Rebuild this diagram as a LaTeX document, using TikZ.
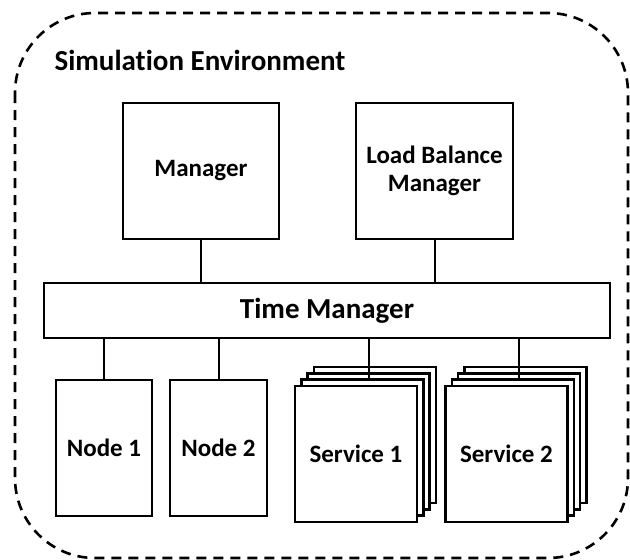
\documentclass[tikz,border=0pt]{standalone}
\usepackage{fontspec}
\setmainfont{Carlito}[Ligatures=NoCommon]
\begin{document}
\begin{tikzpicture}[x=1pt,y=-1pt,
  every node/.style={font=\bfseries\fontsize{25}{28}\selectfont, align=center},
  box/.style={draw, line width=2.5pt, fill=white, inner sep=0pt},
  layer/.style={box, minimum width=122pt, minimum height=136pt},
  link/.style={line width=2pt},
  envborder/.style={line width=2.6pt, dash pattern=on 10pt off 7pt, rounded corners=80pt}
]
\useasboundingbox (0,0) rectangle (630,560);

% surrounding environment
\draw[envborder] (15,13) rectangle (628,558);
\node[anchor=base west, font=\bfseries\fontsize{29}{31}\selectfont] (title) at (51,70) {Simulation Environment};

% upper managers
\node[box, minimum width=156pt, minimum height=136pt] (mgr) at (201,171) {Manager};
\node[box, minimum width=157pt, minimum height=136pt] (lbm) at (434.5,171) {Load Balance\\Manager};

% shared time bus
\node[box, minimum width=566pt, minimum height=55pt, font=\bfseries\fontsize{29}{30}\selectfont] (tm) at (327,310.5) {Time Manager};

% simulated nodes
\node[box, minimum width=96pt, minimum height=136pt] (n1) at (104,448) {Node 1};
\node[box, minimum width=97pt, minimum height=136pt] (n2) at (218.5,448) {Node 2};

% stacked service instances (back to front)
\node[layer] (s1c) at (375,435) {};
\node[layer] (s1b) at (368.7,441.3) {};
\node[layer] (s1a) at (362.3,447.7) {};
\node[layer] (s1)  at (356,454) {Service 1};

\node[layer] (s2c) at (525.5,435) {};
\node[layer] (s2b) at (519.2,441.3) {};
\node[layer] (s2a) at (512.8,447.7) {};
\node[layer] (s2)  at (506.5,454) {Service 2};

% connectors
\draw[link] (mgr.south) -- (mgr.south |- tm.north);
\draw[link] (lbm.south) -- (lbm.south |- tm.north);
\draw[link] (tm.south -| n1.north) -- (n1.north);
\draw[link] (tm.south -| n2.north) -- (n2.north);
\draw[link] (tm.south -| s1b.north) -- (s1b.north |- s1a.north);
\draw[link] (tm.south -| s2b.north) -- (s2b.north |- s2a.north);
\end{tikzpicture}
\end{document}
